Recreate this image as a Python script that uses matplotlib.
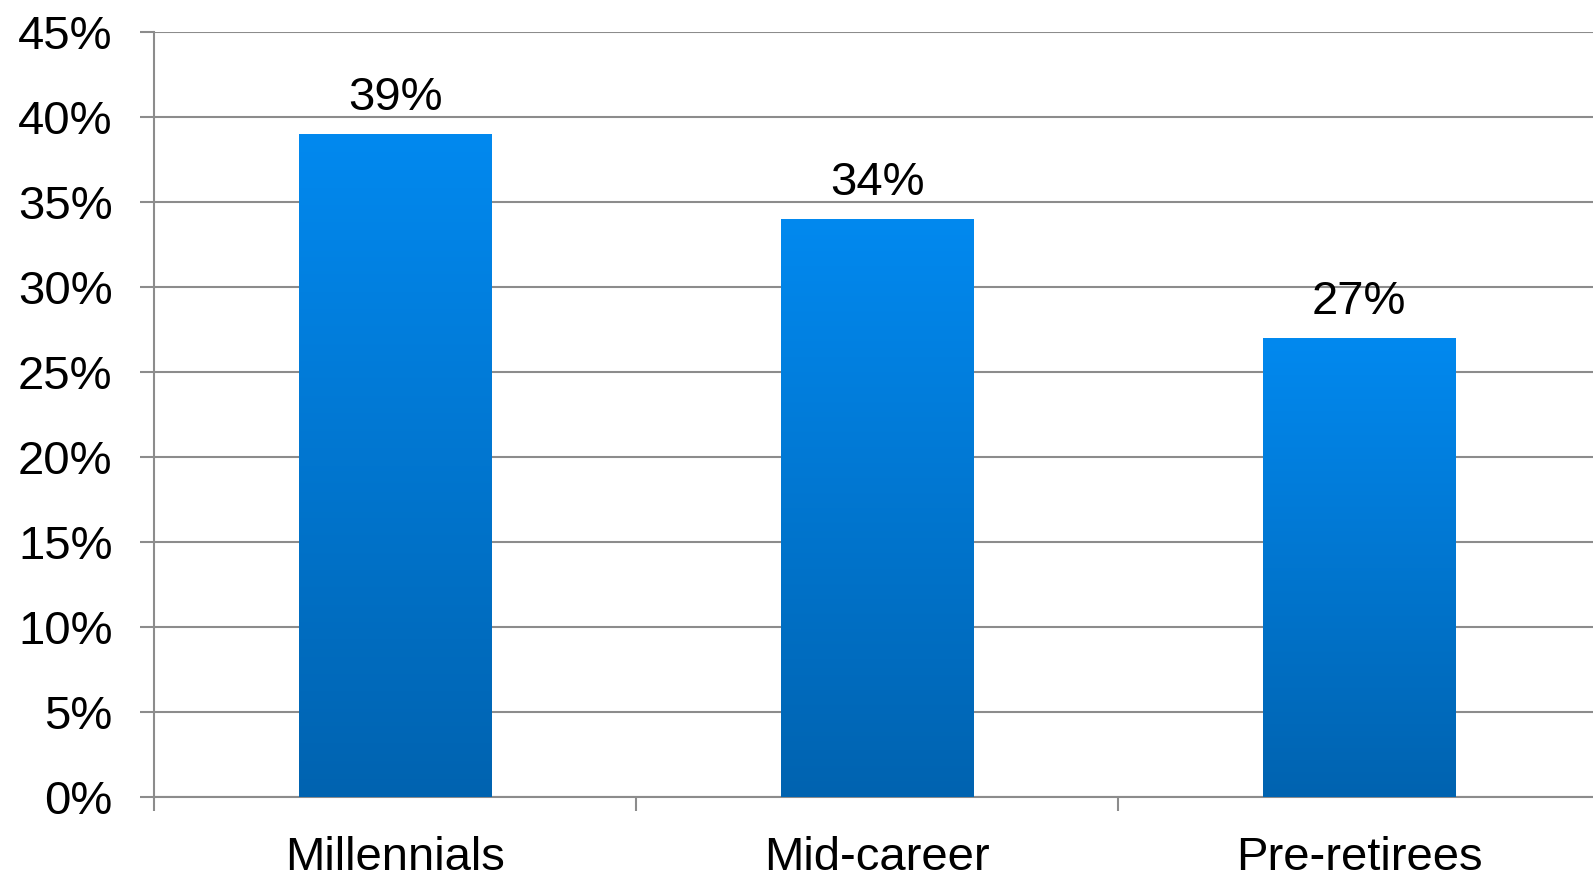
import numpy as np
import matplotlib.pyplot as plt
from matplotlib.colors import LinearSegmentedColormap
from matplotlib.ticker import FixedLocator, PercentFormatter

categories = ["Millennials", "Mid-career", "Pre-retirees"]
values = [39, 34, 27]
y_ticks = [0, 5, 10, 15, 20, 25, 30, 35, 40, 45]

plt.rcParams['font.family'] = ['Liberation Sans', 'DejaVu Sans']

fig = plt.figure(figsize=(15.93, 8.75), dpi=100)
ax = fig.add_axes([0.0967, 0.0891, 0.9077, 0.874])

x = np.arange(len(categories))
bars = ax.bar(x, values, width=0.4, color='#0278d8', zorder=3)

# vertical gradient inside each bar
grad = LinearSegmentedColormap.from_list('blues', ['#0063b0', '#0289ef'])
g = np.linspace(0, 1, 256).reshape(-1, 1)
for b in bars:
    x0, w, h = b.get_x(), b.get_width(), b.get_height()
    im = ax.imshow(g, cmap=grad, aspect='auto', origin='lower',
                   extent=[x0, x0 + w, 0, h], zorder=4)
    im.set_clip_path(b)
    ax.annotate(f"{b.get_height():.0f}%", (x0 + w / 2, h),
                xytext=(0, 10.5), textcoords='offset points',
                ha='center', va='bottom', fontsize=34, zorder=5)

ax.set_xlim(-0.5, len(categories) - 0.5)
ax.set_ylim(0, 45)
ax.set_yticks(y_ticks)
ax.yaxis.set_major_formatter(PercentFormatter(decimals=0))
ax.set_xticks(x)
ax.set_xticklabels(categories)
ax.xaxis.set_minor_locator(FixedLocator(np.arange(len(categories) + 1) - 0.5))

ax.grid(axis='y', color='#8c8c8c', linewidth=1.5, zorder=0)
ax.tick_params(axis='y', length=10, width=1.5, color='#8c8c8c', pad=20, labelsize=34)
ax.tick_params(axis='x', which='major', length=0, pad=28, labelsize=34)
ax.tick_params(axis='x', which='minor', length=10, width=1.5, color='#8c8c8c')

for s in ['top', 'right']:
    ax.spines[s].set_visible(False)
for s in ['left', 'bottom']:
    ax.spines[s].set_color('#8c8c8c')
    ax.spines[s].set_linewidth(1.5)

fig.savefig("out.png", dpi=100)
